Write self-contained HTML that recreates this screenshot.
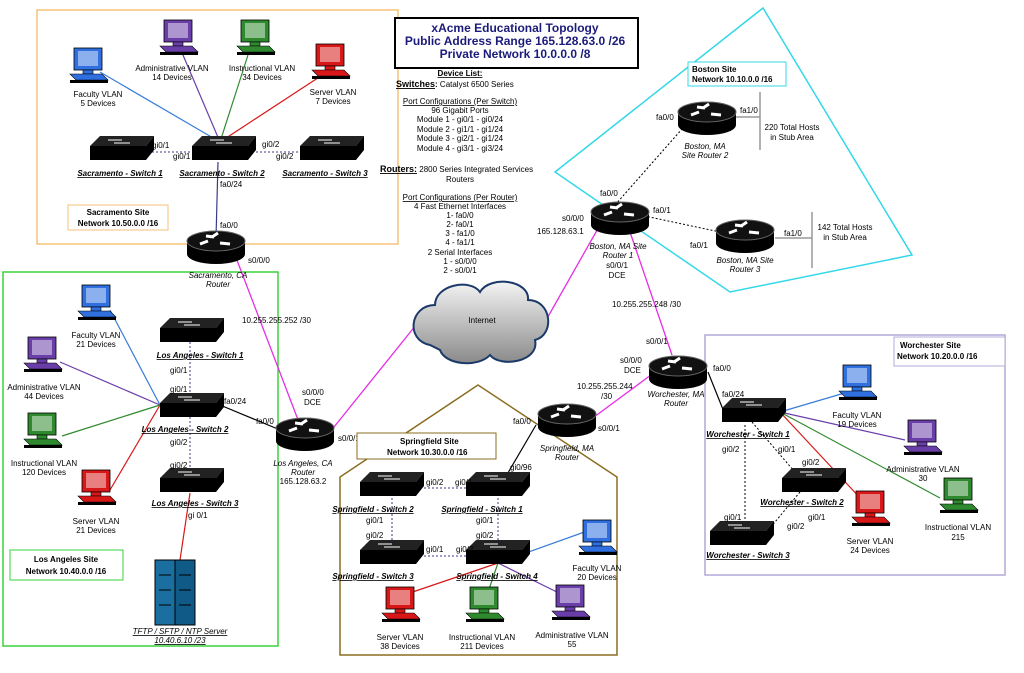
<!DOCTYPE html>
<html><head><meta charset="utf-8"><style>
body{margin:0;background:#fff}
svg{display:block;font-family:"Liberation Sans",Arial,sans-serif}
.t{font-size:8px;fill:#000}
.b{font-weight:bold}
.i{font-style:italic}
.u{text-decoration:underline}
</style></head><body>
<svg width="1024" height="673" viewBox="0 0 1024 673">
<defs>
<g id="rt">
<ellipse cx="0" cy="7" rx="29" ry="10" fill="#000"/>
<rect x="-29" y="-6" width="58" height="13" fill="#000"/>
<ellipse cx="0" cy="-6" rx="29" ry="10" fill="#111" stroke="#666" stroke-width="1"/>
<path d="M-16,-3 l8,-3 M-4,-10 l6,-4 M4,-4 l10,1 M-10,-11 l8,1" stroke="#fff" stroke-width="3"/>
</g>
<g id="sw">
<polygon points="-30,-6 -20,-16 34,-16 26,-6" fill="#222"/>
<rect x="-30" y="-6" width="56" height="14" fill="#000"/>
<polygon points="26,-6 34,-16 34,-2 26,8" fill="#000"/>
<path d="M-12,-12 h14 M-6,-9 h16" stroke="#fff" stroke-width="1"/>
</g>
<g id="pc">
<rect x="-14" y="-20" width="28" height="22" fill="currentColor" stroke="#000" stroke-width="0.8"/>
<rect x="-10" y="-17" width="20" height="15" fill="#fff" opacity="0.45"/>
<rect x="-5" y="2" width="10" height="4" fill="currentColor" stroke="#000" stroke-width="0.6"/>
<polygon points="-18,6 14,6 20,12 -12,12" fill="currentColor" stroke="#000" stroke-width="0.6"/>
<polygon points="-18,12 14,12 20,12 20,15 -18,15" fill="#000"/>
</g>
</defs>

<rect x="37" y="10" width="361" height="234" fill="none" stroke="#f5c27a" stroke-width="1.5"/>
<rect x="3" y="272" width="275" height="374" fill="none" stroke="#3ad23a" stroke-width="1.5"/>
<polygon points="763,8 912,255 730,292 555,172" fill="none" stroke="#33d8e8" stroke-width="1.5"/>
<polygon points="340,655 340,477 478,385 617,477 617,655" fill="none" stroke="#8a6d1e" stroke-width="1.5"/>
<rect x="705" y="335" width="300" height="240" fill="none" stroke="#b4a8d8" stroke-width="1.5"/>

<g stroke="#e62ee6" stroke-width="1.3" fill="none">
<line x1="235" y1="255" x2="300" y2="425"/>
<line x1="330" y1="432" x2="420" y2="320"/>
<line x1="545" y1="322" x2="600" y2="225"/>
<line x1="630" y1="232" x2="672" y2="355"/>
<line x1="655" y1="372" x2="590" y2="420"/>
</g>

<!-- Sacramento -->
<g stroke-width="1.2">
<line x1="220" y1="142" x2="100" y2="72" stroke="#3a7dd8"/>
<line x1="220" y1="142" x2="180" y2="48" stroke="#6a3ea8"/>
<line x1="220" y1="142" x2="248" y2="55" stroke="#2f8a2f"/>
<line x1="220" y1="142" x2="330" y2="70" stroke="#d81818"/>
<line x1="218" y1="162" x2="216" y2="238" stroke="#3a3a8a"/>
</g>
<g stroke="#3a3a8a" stroke-dasharray="2,2"><line x1="152" y1="152" x2="195" y2="152"/><line x1="252" y1="152" x2="305" y2="152"/></g>
<use href="#pc" x="88" y="68" style="color:#2f6fe0"/>
<use href="#pc" x="178" y="40" style="color:#6a3ea8"/>
<use href="#pc" x="255" y="40" style="color:#2f8a2f"/>
<use href="#pc" x="330" y="64" style="color:#d81818"/>
<text class="t" x="98" y="97" text-anchor="middle">Faculty VLAN</text><text class="t" x="98" y="106" text-anchor="middle">5 Devices</text>
<text class="t" x="172" y="71" text-anchor="middle">Administrative VLAN</text><text class="t" x="172" y="80" text-anchor="middle">14 Devices</text>
<text class="t" x="262" y="71" text-anchor="middle">Instructional VLAN</text><text class="t" x="262" y="80" text-anchor="middle">34 Devices</text>
<text class="t" x="333" y="95" text-anchor="middle">Server VLAN</text><text class="t" x="333" y="104" text-anchor="middle">7 Devices</text>
<use href="#sw" x="120" y="152"/><use href="#sw" x="222" y="152"/><use href="#sw" x="330" y="152"/>
<text class="t i u b" x="120" y="176" text-anchor="middle">Sacramento - Switch 1</text>
<text class="t i u b" x="222" y="176" text-anchor="middle">Sacramento - Switch 2</text>
<text class="t i u b" x="325" y="176" text-anchor="middle">Sacramento - Switch 3</text>
<text class="t" x="152" y="148">gi0/1</text><text class="t" x="173" y="159">gi0/1</text>
<text class="t" x="262" y="147">gi0/2</text><text class="t" x="276" y="159">gi0/2</text>
<text class="t" x="220" y="187">fa0/24</text><text class="t" x="220" y="228">fa0/0</text>
<rect x="68" y="205" width="100" height="25" fill="#fff" stroke="#f5c27a"/>
<text class="t b" x="118" y="215" text-anchor="middle">Sacramento Site</text>
<text class="t b" x="118" y="226" text-anchor="middle">Network 10.50.0.0   /16</text>
<use href="#rt" x="216" y="247"/>
<text class="t i" x="218" y="278" text-anchor="middle">Sacramento, CA</text><text class="t i" x="218" y="287" text-anchor="middle">Router</text>
<text class="t" x="248" y="263">s0/0/0</text>
<text class="t" x="242" y="323">10.255.255.252  /30</text>

<!-- Title -->
<rect x="395" y="18" width="243" height="50" fill="#fff" stroke="#000" stroke-width="2"/>
<g fill="#1b1b7a" font-weight="bold" font-size="12" text-anchor="middle">
<text x="515" y="32">xAcme Educational Topology</text>
<text x="515" y="45">Public Address Range 165.128.63.0   /26</text>
<text x="515" y="58">Private Network 10.0.0.0   /8</text></g>
<text class="t b u" x="460" y="76" text-anchor="middle" font-size="9">Device List:</text>
<text class="t" x="396" y="87"><tspan class="b u" font-size="9">Switches</tspan><tspan class="b">:</tspan> Catalyst 6500  Series</text>
<g class="t" text-anchor="middle">
<text x="460" y="104" class="u">Port Configurations (Per Switch)</text>
<text x="460" y="113">96 Gigabit Ports</text>
<text x="460" y="122">Module 1 - gi0/1 - gi0/24</text>
<text x="460" y="132">Module 2 - gi1/1 - gi1/24</text>
<text x="460" y="141">Module 3 - gi2/1 - gi1/24</text>
<text x="460" y="151">Module 4 - gi3/1 - gi3/24</text>
<text x="460" y="200" class="u">Port Configurations (Per Router)</text>
<text x="460" y="209">4 Fast Ethernet Interfaces</text>
<text x="460" y="218">1- fa0/0</text><text x="460" y="227">2- fa0/1</text>
<text x="460" y="236">3 - fa1/0</text><text x="460" y="245">4 - fa1/1</text>
<text x="460" y="255">2 Serial Interfaces</text>
<text x="460" y="264">1 - s0/0/0</text><text x="460" y="273">2 - s0/0/1</text>
<text x="460" y="182">Routers</text>
</g>
<text class="t" x="380" y="172"><tspan class="b u" font-size="9">Routers:</tspan> 2800 Series Integrated Services</text>

<defs><linearGradient id="cg" x1="0" y1="0" x2="0" y2="1"><stop offset="0" stop-color="#f4f4f4"/><stop offset="1" stop-color="#8a8a8a"/></linearGradient></defs>
<path d="M430,345 C405,340 410,305 435,305 C435,285 470,278 480,292 C490,275 530,280 528,300 C552,300 555,335 535,340 C540,362 500,368 490,355 C478,368 445,365 440,350 Z" fill="url(#cg)" stroke="#1b3a6a" stroke-width="2"/>
<text class="t" x="482" y="323" text-anchor="middle" font-size="7">Internet</text>

<!-- Boston -->
<g stroke="#000" stroke-dasharray="2,2"><line x1="615" y1="205" x2="690" y2="120"/><line x1="640" y1="215" x2="720" y2="232"/></g>
<g stroke="#999" stroke-width="1.5"><line x1="736" y1="117" x2="760" y2="117"/><line x1="760" y1="92" x2="760" y2="150"/><line x1="775" y1="238" x2="812" y2="238"/><line x1="812" y1="212" x2="812" y2="268"/></g>
<use href="#rt" x="620" y="218"/><use href="#rt" x="707" y="118"/><use href="#rt" x="745" y="236"/>
<rect x="688" y="62" width="98" height="24" fill="#fff" stroke="#33d8e8"/>
<text class="t b" x="692" y="72">Boston Site</text><text class="t b" x="692" y="82">Network 10.10.0.0    /16</text>
<text class="t" x="656" y="120">fa0/0</text><text class="t" x="740" y="113">fa1/0</text>
<text class="t i" x="705" y="149" text-anchor="middle">Boston, MA</text><text class="t i" x="705" y="158" text-anchor="middle">Site Router 2</text>
<text class="t" x="792" y="130" text-anchor="middle">220 Total Hosts</text><text class="t" x="792" y="140" text-anchor="middle">in Stub Area</text>
<text class="t" x="600" y="196">fa0/0</text><text class="t" x="653" y="213">fa0/1</text>
<text class="t" x="690" y="248">fa0/1</text><text class="t" x="784" y="236">fa1/0</text>
<text class="t" x="845" y="230" text-anchor="middle">142 Total Hosts</text><text class="t" x="845" y="240" text-anchor="middle">in Stub Area</text>
<text class="t i" x="745" y="263" text-anchor="middle">Boston, MA Site</text><text class="t i" x="745" y="272" text-anchor="middle">Router 3</text>
<text class="t" x="562" y="221">s0/0/0</text><text class="t" x="537" y="234">165.128.63.1</text>
<text class="t i" x="618" y="249" text-anchor="middle">Boston, MA Site</text><text class="t i" x="618" y="258" text-anchor="middle">Router 1</text>
<text class="t" x="617" y="268" text-anchor="middle">s0/0/1</text><text class="t" x="617" y="278" text-anchor="middle">DCE</text>
<text class="t" x="612" y="307">10.255.255.248  /30</text>

<!-- Los Angeles -->
<g stroke-width="1.2">
<line x1="160" y1="405" x2="110" y2="310" stroke="#3a7dd8"/>
<line x1="160" y1="405" x2="60" y2="362" stroke="#6a3ea8"/>
<line x1="160" y1="405" x2="62" y2="436" stroke="#2f8a2f"/>
<line x1="160" y1="405" x2="110" y2="490" stroke="#d81818"/>
<line x1="190" y1="493" x2="180" y2="560" stroke="#d81818"/>
<line x1="220" y1="405" x2="285" y2="432" stroke="#000"/>
</g>
<g stroke="#3a3a8a" stroke-dasharray="2,2"><line x1="190" y1="342" x2="190" y2="397"/><line x1="190" y1="417" x2="190" y2="472"/></g>
<use href="#pc" x="96" y="305" style="color:#2f6fe0"/>
<use href="#pc" x="42" y="357" style="color:#6a3ea8"/>
<use href="#pc" x="42" y="433" style="color:#2f8a2f"/>
<use href="#pc" x="96" y="490" style="color:#d81818"/>
<text class="t" x="96" y="338" text-anchor="middle">Faculty VLAN</text><text class="t" x="96" y="347" text-anchor="middle">21 Devices</text>
<text class="t" x="44" y="390" text-anchor="middle">Administrative VLAN</text><text class="t" x="44" y="399" text-anchor="middle">44 Devices</text>
<text class="t" x="44" y="466" text-anchor="middle">Instructional VLAN</text><text class="t" x="44" y="475" text-anchor="middle">120 Devices</text>
<text class="t" x="96" y="524" text-anchor="middle">Server VLAN</text><text class="t" x="96" y="533" text-anchor="middle">21 Devices</text>
<use href="#sw" x="190" y="334"/><use href="#sw" x="190" y="409"/><use href="#sw" x="190" y="484"/>
<text class="t i u b" x="200" y="358" text-anchor="middle">Los Angeles - Switch 1</text>
<text class="t i u b" x="185" y="432" text-anchor="middle">Los Angeles - Switch 2</text>
<text class="t i u b" x="195" y="506" text-anchor="middle">Los Angeles - Switch 3</text>
<text class="t" x="170" y="373">gi0/1</text><text class="t" x="170" y="392">gi0/1</text>
<text class="t" x="170" y="445">gi0/2</text><text class="t" x="170" y="468">gi0/2</text>
<text class="t" x="224" y="404">fa0/24</text><text class="t" x="188" y="518">gi 0/1</text>
<rect x="155" y="560" width="40" height="65" fill="#1a6fa0" stroke="#000"/>
<rect x="175" y="560" width="20" height="65" fill="#0f5a86" stroke="#000"/>
<path d="M159,575 h12 M159,590 h12 M179,575 h12 M179,590 h12 M159,605 h12 M179,605 h12" stroke="#000"/>
<text class="t i u" x="180" y="634" text-anchor="middle">TFTP / SFTP / NTP Server</text>
<text class="t i u" x="180" y="643" text-anchor="middle">10.40.6.10   /23</text>
<rect x="10" y="550" width="113" height="30" fill="#fff" stroke="#3ad23a"/>
<text class="t b" x="66" y="562" text-anchor="middle">Los Angeles Site</text><text class="t b" x="66" y="574" text-anchor="middle">Network 10.40.0.0   /16</text>
<use href="#rt" x="305" y="434"/>
<text class="t" x="256" y="424">fa0/0</text><text class="t" x="302" y="395">s0/0/0</text><text class="t" x="304" y="405">DCE</text>
<text class="t" x="338" y="441">s0/0/1</text>
<text class="t i" x="303" y="466" text-anchor="middle">Los Angeles, CA</text><text class="t i" x="303" y="475" text-anchor="middle">Router</text><text class="t" x="303" y="484" text-anchor="middle">165.128.63.2</text>

<!-- Springfield -->
<g stroke-width="1.2">
<line x1="536" y1="425" x2="505" y2="478" stroke="#000"/>
<line x1="498" y1="563" x2="395" y2="598" stroke="#d81818"/>
<line x1="498" y1="563" x2="486" y2="598" stroke="#2f8a2f"/>
<line x1="498" y1="563" x2="565" y2="596" stroke="#6a3ea8"/>
<line x1="498" y1="563" x2="590" y2="530" stroke="#3a7dd8"/>
</g>
<g stroke="#3a3a8a" stroke-dasharray="2,2"><line x1="420" y1="488" x2="470" y2="488"/><line x1="420" y1="556" x2="470" y2="556"/><line x1="392" y1="498" x2="392" y2="546"/><line x1="498" y1="498" x2="498" y2="546"/></g>
<use href="#sw" x="390" y="488"/><use href="#sw" x="496" y="488"/><use href="#sw" x="390" y="556"/><use href="#sw" x="496" y="556"/>
<text class="t i u b" x="373" y="512" text-anchor="middle">Springfield - Switch 2</text>
<text class="t i u b" x="482" y="512" text-anchor="middle">Springfield - Switch 1</text>
<text class="t i u b" x="373" y="579" text-anchor="middle">Springfield - Switch 3</text>
<text class="t i u b" x="497" y="579" text-anchor="middle">Springfield - Switch 4</text>
<text class="t" x="426" y="485">gi0/2</text><text class="t" x="455" y="485">gi0/1</text>
<text class="t" x="366" y="523">gi0/1</text><text class="t" x="366" y="538">gi0/2</text>
<text class="t" x="476" y="523">gi0/1</text><text class="t" x="476" y="538">gi0/2</text>
<text class="t" x="426" y="552">gi0/1</text><text class="t" x="456" y="552">gi0/2</text>
<text class="t" x="510" y="470">gi0/96</text><text class="t" x="513" y="424">fa0/0</text>
<use href="#pc" x="400" y="607" style="color:#d81818"/><use href="#pc" x="484" y="607" style="color:#2f8a2f"/>
<use href="#pc" x="570" y="605" style="color:#6a3ea8"/><use href="#pc" x="597" y="540" style="color:#2f6fe0"/>
<text class="t" x="400" y="640" text-anchor="middle">Server VLAN</text><text class="t" x="400" y="649" text-anchor="middle">38 Devices</text>
<text class="t" x="482" y="640" text-anchor="middle">Instructional VLAN</text><text class="t" x="482" y="649" text-anchor="middle">211 Devices</text>
<text class="t" x="572" y="638" text-anchor="middle">Administrative VLAN</text><text class="t" x="572" y="647" text-anchor="middle">55</text>
<text class="t" x="597" y="571" text-anchor="middle">Faculty VLAN</text><text class="t" x="597" y="580" text-anchor="middle">20 Devices</text>
<rect x="357" y="433" width="139" height="26" fill="#fff" stroke="#8a6d1e"/>
<text class="t b" x="400" y="444">Springfield Site</text><text class="t b" x="387" y="455">Network 10.30.0.0   /16</text>
<use href="#rt" x="567" y="420"/>
<text class="t i" x="567" y="451" text-anchor="middle">Springfield, MA</text><text class="t i" x="567" y="460" text-anchor="middle">Router</text>
<text class="t" x="598" y="431">s0/0/1</text>
<text class="t" x="577" y="389">10.255.255.244</text><text class="t" x="601" y="399">/30</text>

<!-- Worchester -->
<g stroke-width="1.2">
<line x1="708" y1="372" x2="724" y2="412" stroke="#000"/>
<line x1="780" y1="412" x2="848" y2="392" stroke="#3a7dd8"/>
<line x1="780" y1="412" x2="905" y2="440" stroke="#6a3ea8"/>
<line x1="780" y1="412" x2="940" y2="498" stroke="#2f8a2f"/>
<line x1="780" y1="412" x2="862" y2="500" stroke="#d81818"/>
</g>
<g stroke="#000" stroke-dasharray="2,2"><line x1="752" y1="422" x2="800" y2="478"/><line x1="745" y1="425" x2="745" y2="528"/><line x1="800" y1="492" x2="770" y2="528"/></g>
<use href="#rt" x="678" y="372"/>
<text class="t" x="646" y="344">s0/0/1</text><text class="t" x="620" y="363">s0/0/0</text><text class="t" x="624" y="373">DCE</text>
<text class="t i" x="676" y="397" text-anchor="middle">Worchester, MA</text><text class="t i" x="676" y="406" text-anchor="middle">Router</text>
<text class="t" x="713" y="371">fa0/0</text><text class="t" x="722" y="397" fill="#8a6d1e">fa0/24</text>
<use href="#sw" x="752" y="414"/><use href="#sw" x="812" y="484"/><use href="#sw" x="740" y="537"/>
<text class="t i u b" x="748" y="437" text-anchor="middle">Worchester - Switch 1</text>
<text class="t i u b" x="802" y="505" text-anchor="middle">Worchester - Switch 2</text>
<text class="t i u b" x="748" y="558" text-anchor="middle">Worchester - Switch 3</text>
<text class="t" x="778" y="452">gi0/1</text><text class="t" x="722" y="452">gi0/2</text><text class="t" x="802" y="465">gi0/2</text>
<text class="t" x="808" y="520">gi0/1</text><text class="t" x="787" y="529">gi0/2</text><text class="t" x="724" y="520">gi0/1</text>
<use href="#pc" x="857" y="385" style="color:#2f6fe0"/><use href="#pc" x="922" y="440" style="color:#6a3ea8"/>
<use href="#pc" x="958" y="498" style="color:#2f8a2f"/><use href="#pc" x="870" y="511" style="color:#d81818"/>
<text class="t" x="857" y="418" text-anchor="middle">Faculty VLAN</text><text class="t" x="857" y="427" text-anchor="middle">19 Devices</text>
<text class="t" x="923" y="472" text-anchor="middle">Administrative VLAN</text><text class="t" x="923" y="481" text-anchor="middle">30</text>
<text class="t" x="958" y="530" text-anchor="middle">Instructional VLAN</text><text class="t" x="958" y="540" text-anchor="middle">215</text>
<text class="t" x="870" y="544" text-anchor="middle">Server VLAN</text><text class="t" x="870" y="553" text-anchor="middle">24 Devices</text>
<rect x="894" y="337" width="111" height="29" fill="#fff" stroke="#b4a8d8"/>
<text class="t b" x="900" y="348">Worchester Site</text><text class="t b" x="897" y="359">Network 10.20.0.0   /16</text>
</svg>
</body></html>
